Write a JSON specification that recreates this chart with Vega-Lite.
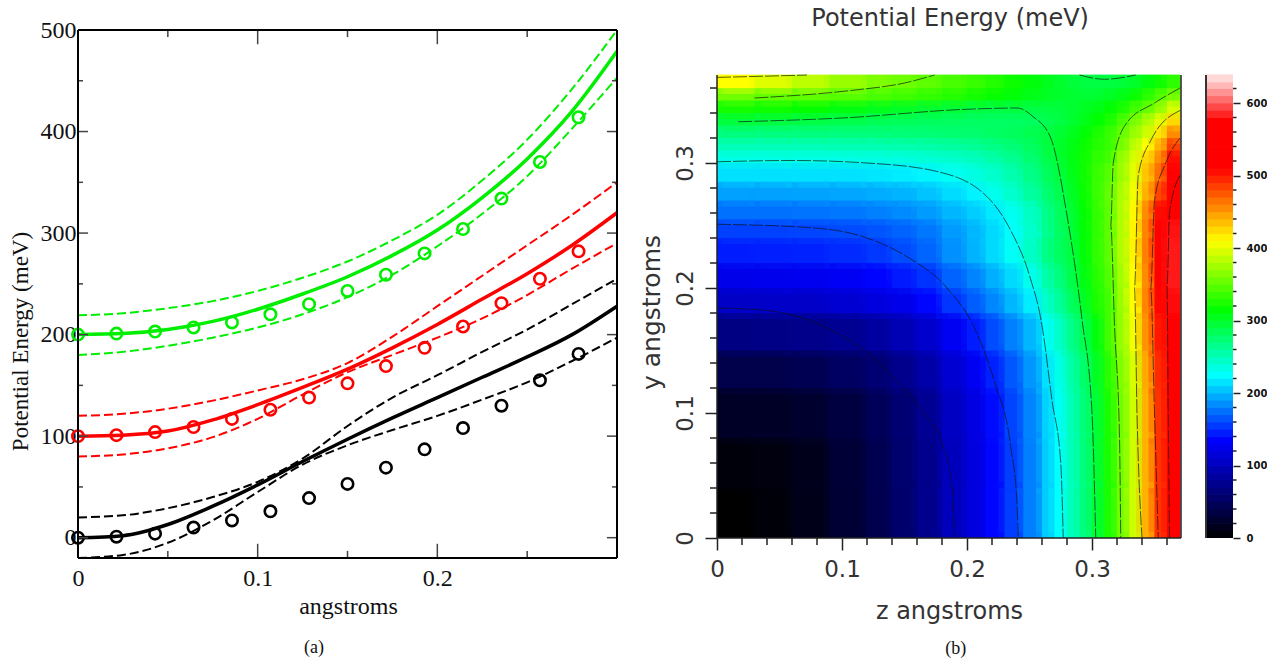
{"$schema":"https://vega.github.io/schema/vega-lite/v6.json","padding":{"left":9,"top":6,"right":0,"bottom":0},"background":"white","bounds":"flush","spacing":25,"resolve":{"scale":{"color":"independent"}},"config":{"view":{"stroke":null},"axis":{"grid":false}},
"datasets":{
"lines":[
{"s":"k","k":"m","x":0,"v":0},{"s":"k","k":"m","x":0.025,"v":2},{"s":"k","k":"m","x":0.05,"v":13},{"s":"k","k":"m","x":0.075,"v":31},{"s":"k","k":"m","x":0.1,"v":52},{"s":"k","k":"m","x":0.125,"v":75},{"s":"k","k":"m","x":0.15,"v":97},{"s":"k","k":"m","x":0.175,"v":118},{"s":"k","k":"m","x":0.2,"v":138},{"s":"k","k":"m","x":0.225,"v":158},{"s":"k","k":"m","x":0.25,"v":178},{"s":"k","k":"m","x":0.275,"v":200},{"s":"k","k":"m","x":0.3,"v":228},
{"s":"k","k":"u","x":0,"v":20},{"s":"k","k":"u","x":0.025,"v":22},{"s":"k","k":"u","x":0.05,"v":29},{"s":"k","k":"u","x":0.075,"v":40},{"s":"k","k":"u","x":0.1,"v":55},{"s":"k","k":"u","x":0.125,"v":78},{"s":"k","k":"u","x":0.15,"v":110},{"s":"k","k":"u","x":0.175,"v":138},{"s":"k","k":"u","x":0.2,"v":160},{"s":"k","k":"u","x":0.225,"v":183},{"s":"k","k":"u","x":0.25,"v":205},{"s":"k","k":"u","x":0.275,"v":230},{"s":"k","k":"u","x":0.3,"v":255},
{"s":"k","k":"l","x":0,"v":-20},{"s":"k","k":"l","x":0.025,"v":-17},{"s":"k","k":"l","x":0.05,"v":-5},{"s":"k","k":"l","x":0.075,"v":17},{"s":"k","k":"l","x":0.1,"v":45},{"s":"k","k":"l","x":0.125,"v":72},{"s":"k","k":"l","x":0.15,"v":91},{"s":"k","k":"l","x":0.175,"v":106},{"s":"k","k":"l","x":0.2,"v":120},{"s":"k","k":"l","x":0.225,"v":136},{"s":"k","k":"l","x":0.25,"v":153},{"s":"k","k":"l","x":0.275,"v":174},{"s":"k","k":"l","x":0.3,"v":197},
{"s":"r","k":"m","x":0,"v":100},{"s":"r","k":"m","x":0.025,"v":101},{"s":"r","k":"m","x":0.05,"v":105},{"s":"r","k":"m","x":0.075,"v":116},{"s":"r","k":"m","x":0.1,"v":131},{"s":"r","k":"m","x":0.125,"v":148},{"s":"r","k":"m","x":0.15,"v":166},{"s":"r","k":"m","x":0.175,"v":187},{"s":"r","k":"m","x":0.2,"v":210},{"s":"r","k":"m","x":0.225,"v":235},{"s":"r","k":"m","x":0.25,"v":260},{"s":"r","k":"m","x":0.275,"v":288},{"s":"r","k":"m","x":0.3,"v":320},
{"s":"r","k":"u","x":0,"v":120},{"s":"r","k":"u","x":0.025,"v":122},{"s":"r","k":"u","x":0.05,"v":127},{"s":"r","k":"u","x":0.075,"v":135},{"s":"r","k":"u","x":0.1,"v":145},{"s":"r","k":"u","x":0.125,"v":156},{"s":"r","k":"u","x":0.15,"v":172},{"s":"r","k":"u","x":0.175,"v":198},{"s":"r","k":"u","x":0.2,"v":228},{"s":"r","k":"u","x":0.225,"v":258},{"s":"r","k":"u","x":0.25,"v":288},{"s":"r","k":"u","x":0.275,"v":318},{"s":"r","k":"u","x":0.3,"v":350},
{"s":"r","k":"l","x":0,"v":80},{"s":"r","k":"l","x":0.025,"v":82},{"s":"r","k":"l","x":0.05,"v":88},{"s":"r","k":"l","x":0.075,"v":99},{"s":"r","k":"l","x":0.1,"v":117},{"s":"r","k":"l","x":0.125,"v":141},{"s":"r","k":"l","x":0.15,"v":163},{"s":"r","k":"l","x":0.175,"v":180},{"s":"r","k":"l","x":0.2,"v":197},{"s":"r","k":"l","x":0.225,"v":216},{"s":"r","k":"l","x":0.25,"v":239},{"s":"r","k":"l","x":0.275,"v":265},{"s":"r","k":"l","x":0.3,"v":290},
{"s":"g","k":"m","x":0,"v":200},{"s":"g","k":"m","x":0.025,"v":201},{"s":"g","k":"m","x":0.05,"v":205},{"s":"g","k":"m","x":0.075,"v":213},{"s":"g","k":"m","x":0.1,"v":225},{"s":"g","k":"m","x":0.125,"v":240},{"s":"g","k":"m","x":0.15,"v":257},{"s":"g","k":"m","x":0.175,"v":278},{"s":"g","k":"m","x":0.2,"v":303},{"s":"g","k":"m","x":0.225,"v":335},{"s":"g","k":"m","x":0.25,"v":373},{"s":"g","k":"m","x":0.275,"v":420},{"s":"g","k":"m","x":0.3,"v":479},
{"s":"g","k":"u","x":0,"v":219},{"s":"g","k":"u","x":0.025,"v":221},{"s":"g","k":"u","x":0.05,"v":226},{"s":"g","k":"u","x":0.075,"v":233},{"s":"g","k":"u","x":0.1,"v":243},{"s":"g","k":"u","x":0.125,"v":256},{"s":"g","k":"u","x":0.15,"v":272},{"s":"g","k":"u","x":0.175,"v":293},{"s":"g","k":"u","x":0.2,"v":318},{"s":"g","k":"u","x":0.225,"v":352},{"s":"g","k":"u","x":0.25,"v":392},{"s":"g","k":"u","x":0.275,"v":442},{"s":"g","k":"u","x":0.3,"v":500},
{"s":"g","k":"l","x":0,"v":180},{"s":"g","k":"l","x":0.025,"v":183},{"s":"g","k":"l","x":0.05,"v":189},{"s":"g","k":"l","x":0.075,"v":197},{"s":"g","k":"l","x":0.1,"v":207},{"s":"g","k":"l","x":0.125,"v":220},{"s":"g","k":"l","x":0.15,"v":237},{"s":"g","k":"l","x":0.175,"v":259},{"s":"g","k":"l","x":0.2,"v":287},{"s":"g","k":"l","x":0.225,"v":319},{"s":"g","k":"l","x":0.25,"v":356},{"s":"g","k":"l","x":0.275,"v":403},{"s":"g","k":"l","x":0.3,"v":453}],
"pts":[
{"s":"k","x":0,"v":0},{"s":"k","x":0.0214,"v":1},{"s":"k","x":0.0429,"v":4},{"s":"k","x":0.0643,"v":10},{"s":"k","x":0.0857,"v":17},{"s":"k","x":0.1071,"v":26},{"s":"k","x":0.1286,"v":39},{"s":"k","x":0.15,"v":53},{"s":"k","x":0.1714,"v":69},{"s":"k","x":0.1929,"v":87},{"s":"k","x":0.2143,"v":108},{"s":"k","x":0.2357,"v":130},{"s":"k","x":0.2571,"v":155},{"s":"k","x":0.2786,"v":181},
{"s":"r","x":0,"v":100},{"s":"r","x":0.0214,"v":101},{"s":"r","x":0.0429,"v":104},{"s":"r","x":0.0643,"v":109},{"s":"r","x":0.0857,"v":117},{"s":"r","x":0.1071,"v":126},{"s":"r","x":0.1286,"v":138},{"s":"r","x":0.15,"v":152},{"s":"r","x":0.1714,"v":169},{"s":"r","x":0.1929,"v":187},{"s":"r","x":0.2143,"v":208},{"s":"r","x":0.2357,"v":231},{"s":"r","x":0.2571,"v":255},{"s":"r","x":0.2786,"v":282},
{"s":"g","x":0,"v":200},{"s":"g","x":0.0214,"v":201},{"s":"g","x":0.0429,"v":203},{"s":"g","x":0.0643,"v":207},{"s":"g","x":0.0857,"v":212},{"s":"g","x":0.1071,"v":220},{"s":"g","x":0.1286,"v":230},{"s":"g","x":0.15,"v":243},{"s":"g","x":0.1714,"v":259},{"s":"g","x":0.1929,"v":280},{"s":"g","x":0.2143,"v":304},{"s":"g","x":0.2357,"v":334},{"s":"g","x":0.2571,"v":370},{"s":"g","x":0.2786,"v":414}],
"vt":[{"x":0.05,"y":-20,"y2":-13},{"x":0.1,"y":-20,"y2":-6},{"x":0.15,"y":-20,"y2":-13},{"x":0.2,"y":-20,"y2":-6},{"x":0.25,"y":-20,"y2":-13},{"x":0.05,"y":500,"y2":493},{"x":0.1,"y":500,"y2":486},{"x":0.15,"y":500,"y2":493},{"x":0.2,"y":500,"y2":486},{"x":0.25,"y":500,"y2":493}],
"ht":[{"y":0,"x":0,"x2":0.0056},{"y":100,"x":0,"x2":0.0056},{"y":200,"x":0,"x2":0.0056},{"y":300,"x":0,"x2":0.0056},{"y":400,"x":0,"x2":0.0056},{"y":50,"x":0,"x2":0.0028},{"y":150,"x":0,"x2":0.0028},{"y":250,"x":0,"x2":0.0028},{"y":350,"x":0,"x2":0.0028},{"y":450,"x":0,"x2":0.0028},{"y":0,"x":0.3,"x2":0.2944},{"y":100,"x":0.3,"x2":0.2944},{"y":200,"x":0.3,"x2":0.2944},{"y":300,"x":0.3,"x2":0.2944},{"y":400,"x":0.3,"x2":0.2944},{"y":50,"x":0.3,"x2":0.2972},{"y":150,"x":0.3,"x2":0.2972},{"y":250,"x":0.3,"x2":0.2972},{"y":350,"x":0.3,"x2":0.2972},{"y":450,"x":0.3,"x2":0.2972}],
"zedges":[{"z":0,"z2":0.03},{"z":0.03,"z2":0.06},{"z":0.06,"z2":0.09},{"z":0.09,"z2":0.12},{"z":0.12,"z2":0.14},{"z":0.14,"z2":0.16},{"z":0.16,"z2":0.18},{"z":0.18,"z2":0.2},{"z":0.2,"z2":0.215},{"z":0.215,"z2":0.23},{"z":0.23,"z2":0.245},{"z":0.245,"z2":0.26},{"z":0.26,"z2":0.27},{"z":0.27,"z2":0.28},{"z":0.28,"z2":0.29},{"z":0.29,"z2":0.3},{"z":0.3,"z2":0.31},{"z":0.31,"z2":0.32},{"z":0.32,"z2":0.33},{"z":0.33,"z2":0.34},{"z":0.34,"z2":0.35},{"z":0.35,"z2":0.36},{"z":0.36,"z2":0.3704}],
"yedges":[{"y":0,"y2":0.04},{"y":0.04,"y2":0.08},{"y":0.08,"y2":0.12},{"y":0.12,"y2":0.15},{"y":0.15,"y2":0.18},{"y":0.18,"y2":0.2},{"y":0.2,"y2":0.22},{"y":0.22,"y2":0.24},{"y":0.24,"y2":0.255},{"y":0.255,"y2":0.27},{"y":0.27,"y2":0.285},{"y":0.285,"y2":0.3},{"y":0.3,"y2":0.31},{"y":0.31,"y2":0.32},{"y":0.32,"y2":0.33},{"y":0.33,"y2":0.34},{"y":0.34,"y2":0.35},{"y":0.35,"y2":0.36},{"y":0.36,"y2":0.3704}],
"heat":[
{"z":0,"y":0,"v":1},{"z":0.03,"y":0,"v":5},{"z":0.06,"y":0,"v":14},{"z":0.09,"y":0,"v":28},{"z":0.12,"y":0,"v":42},{"z":0.14,"y":0,"v":57},{"z":0.16,"y":0,"v":75},{"z":0.18,"y":0,"v":100},{"z":0.2,"y":0,"v":118},{"z":0.215,"y":0,"v":137},{"z":0.23,"y":0,"v":157},{"z":0.245,"y":0,"v":180},{"z":0.26,"y":0,"v":207},{"z":0.27,"y":0,"v":225},{"z":0.28,"y":0,"v":248},{"z":0.29,"y":0,"v":270},{"z":0.3,"y":0,"v":295},{"z":0.31,"y":0,"v":325},{"z":0.32,"y":0,"v":357},{"z":0.33,"y":0,"v":392},{"z":0.34,"y":0,"v":440},{"z":0.35,"y":0,"v":490},{"z":0.36,"y":0,"v":560},
{"z":0,"y":0.04,"v":6},{"z":0.03,"y":0.04,"v":8},{"z":0.06,"y":0.04,"v":15},{"z":0.09,"y":0.04,"v":29},{"z":0.12,"y":0.04,"v":43},{"z":0.14,"y":0.04,"v":58},{"z":0.16,"y":0.04,"v":75},{"z":0.18,"y":0.04,"v":100},{"z":0.2,"y":0.04,"v":118},{"z":0.215,"y":0.04,"v":137},{"z":0.23,"y":0.04,"v":157},{"z":0.245,"y":0.04,"v":180},{"z":0.26,"y":0.04,"v":207},{"z":0.27,"y":0.04,"v":225},{"z":0.28,"y":0.04,"v":248},{"z":0.29,"y":0.04,"v":270},{"z":0.3,"y":0.04,"v":295},{"z":0.31,"y":0.04,"v":325},{"z":0.32,"y":0.04,"v":357},{"z":0.33,"y":0.04,"v":392},{"z":0.34,"y":0.04,"v":440},{"z":0.35,"y":0.04,"v":490},{"z":0.36,"y":0.04,"v":562},
{"z":0,"y":0.08,"v":20},{"z":0.03,"y":0.08,"v":21},{"z":0.06,"y":0.08,"v":25},{"z":0.09,"y":0.08,"v":35},{"z":0.12,"y":0.08,"v":47},{"z":0.14,"y":0.08,"v":61},{"z":0.16,"y":0.08,"v":78},{"z":0.18,"y":0.08,"v":103},{"z":0.2,"y":0.08,"v":120},{"z":0.215,"y":0.08,"v":139},{"z":0.23,"y":0.08,"v":159},{"z":0.245,"y":0.08,"v":182},{"z":0.26,"y":0.08,"v":209},{"z":0.27,"y":0.08,"v":227},{"z":0.28,"y":0.08,"v":249},{"z":0.29,"y":0.08,"v":271},{"z":0.3,"y":0.08,"v":296},{"z":0.31,"y":0.08,"v":325},{"z":0.32,"y":0.08,"v":357},{"z":0.33,"y":0.08,"v":392},{"z":0.34,"y":0.08,"v":440},{"z":0.35,"y":0.08,"v":490},{"z":0.36,"y":0.08,"v":563},
{"z":0,"y":0.12,"v":40},{"z":0.03,"y":0.12,"v":41},{"z":0.06,"y":0.12,"v":44},{"z":0.09,"y":0.12,"v":52},{"z":0.12,"y":0.12,"v":62},{"z":0.14,"y":0.12,"v":74},{"z":0.16,"y":0.12,"v":89},{"z":0.18,"y":0.12,"v":112},{"z":0.2,"y":0.12,"v":129},{"z":0.215,"y":0.12,"v":147},{"z":0.23,"y":0.12,"v":166},{"z":0.245,"y":0.12,"v":188},{"z":0.26,"y":0.12,"v":215},{"z":0.27,"y":0.12,"v":232},{"z":0.28,"y":0.12,"v":255},{"z":0.29,"y":0.12,"v":277},{"z":0.3,"y":0.12,"v":301},{"z":0.31,"y":0.12,"v":330},{"z":0.32,"y":0.12,"v":362},{"z":0.33,"y":0.12,"v":395},{"z":0.34,"y":0.12,"v":443},{"z":0.35,"y":0.12,"v":493},{"z":0.36,"y":0.12,"v":568},
{"z":0,"y":0.15,"v":70},{"z":0.03,"y":0.15,"v":71},{"z":0.06,"y":0.15,"v":73},{"z":0.09,"y":0.15,"v":78},{"z":0.12,"y":0.15,"v":86},{"z":0.14,"y":0.15,"v":96},{"z":0.16,"y":0.15,"v":109},{"z":0.18,"y":0.15,"v":129},{"z":0.2,"y":0.15,"v":145},{"z":0.215,"y":0.15,"v":162},{"z":0.23,"y":0.15,"v":180},{"z":0.245,"y":0.15,"v":200},{"z":0.26,"y":0.15,"v":226},{"z":0.27,"y":0.15,"v":243},{"z":0.28,"y":0.15,"v":265},{"z":0.29,"y":0.15,"v":286},{"z":0.3,"y":0.15,"v":310},{"z":0.31,"y":0.15,"v":339},{"z":0.32,"y":0.15,"v":370},{"z":0.33,"y":0.15,"v":405},{"z":0.34,"y":0.15,"v":452},{"z":0.35,"y":0.15,"v":501},{"z":0.36,"y":0.15,"v":572},
{"z":0,"y":0.18,"v":105},{"z":0.03,"y":0.18,"v":106},{"z":0.06,"y":0.18,"v":107},{"z":0.09,"y":0.18,"v":112},{"z":0.12,"y":0.18,"v":118},{"z":0.14,"y":0.18,"v":125},{"z":0.16,"y":0.18,"v":137},{"z":0.18,"y":0.18,"v":154},{"z":0.2,"y":0.18,"v":168},{"z":0.215,"y":0.18,"v":183},{"z":0.23,"y":0.18,"v":200},{"z":0.245,"y":0.18,"v":219},{"z":0.26,"y":0.18,"v":243},{"z":0.27,"y":0.18,"v":259},{"z":0.28,"y":0.18,"v":280},{"z":0.29,"y":0.18,"v":301},{"z":0.3,"y":0.18,"v":325},{"z":0.31,"y":0.18,"v":340},{"z":0.32,"y":0.18,"v":372},{"z":0.33,"y":0.18,"v":410},{"z":0.34,"y":0.18,"v":458},{"z":0.35,"y":0.18,"v":508},{"z":0.36,"y":0.18,"v":578},
{"z":0,"y":0.2,"v":125},{"z":0.03,"y":0.2,"v":126},{"z":0.06,"y":0.2,"v":127},{"z":0.09,"y":0.2,"v":131},{"z":0.12,"y":0.2,"v":136},{"z":0.14,"y":0.2,"v":144},{"z":0.16,"y":0.2,"v":153},{"z":0.18,"y":0.2,"v":170},{"z":0.2,"y":0.2,"v":182},{"z":0.215,"y":0.2,"v":197},{"z":0.23,"y":0.2,"v":212},{"z":0.245,"y":0.2,"v":231},{"z":0.26,"y":0.2,"v":255},{"z":0.27,"y":0.2,"v":270},{"z":0.28,"y":0.2,"v":288},{"z":0.29,"y":0.2,"v":308},{"z":0.3,"y":0.2,"v":328},{"z":0.31,"y":0.2,"v":345},{"z":0.32,"y":0.2,"v":375},{"z":0.33,"y":0.2,"v":410},{"z":0.34,"y":0.2,"v":455},{"z":0.35,"y":0.2,"v":510},{"z":0.36,"y":0.2,"v":582},
{"z":0,"y":0.22,"v":145},{"z":0.03,"y":0.22,"v":146},{"z":0.06,"y":0.22,"v":147},{"z":0.09,"y":0.22,"v":150},{"z":0.12,"y":0.22,"v":155},{"z":0.14,"y":0.22,"v":162},{"z":0.16,"y":0.22,"v":171},{"z":0.18,"y":0.22,"v":186},{"z":0.2,"y":0.22,"v":198},{"z":0.215,"y":0.22,"v":212},{"z":0.23,"y":0.22,"v":227},{"z":0.245,"y":0.22,"v":245},{"z":0.26,"y":0.22,"v":267},{"z":0.27,"y":0.22,"v":280},{"z":0.28,"y":0.22,"v":292},{"z":0.29,"y":0.22,"v":312},{"z":0.3,"y":0.22,"v":332},{"z":0.31,"y":0.22,"v":350},{"z":0.32,"y":0.22,"v":380},{"z":0.33,"y":0.22,"v":414},{"z":0.34,"y":0.22,"v":460},{"z":0.35,"y":0.22,"v":515},{"z":0.36,"y":0.22,"v":582},
{"z":0,"y":0.24,"v":158},{"z":0.03,"y":0.24,"v":158},{"z":0.06,"y":0.24,"v":159},{"z":0.09,"y":0.24,"v":161},{"z":0.12,"y":0.24,"v":165},{"z":0.14,"y":0.24,"v":170},{"z":0.16,"y":0.24,"v":177},{"z":0.18,"y":0.24,"v":190},{"z":0.2,"y":0.24,"v":200},{"z":0.215,"y":0.24,"v":212},{"z":0.23,"y":0.24,"v":226},{"z":0.245,"y":0.24,"v":243},{"z":0.26,"y":0.24,"v":264},{"z":0.27,"y":0.24,"v":279},{"z":0.28,"y":0.24,"v":294},{"z":0.29,"y":0.24,"v":313},{"z":0.3,"y":0.24,"v":332},{"z":0.31,"y":0.24,"v":350},{"z":0.32,"y":0.24,"v":380},{"z":0.33,"y":0.24,"v":413},{"z":0.34,"y":0.24,"v":458},{"z":0.35,"y":0.24,"v":510},{"z":0.36,"y":0.24,"v":580},
{"z":0,"y":0.255,"v":175},{"z":0.03,"y":0.255,"v":175},{"z":0.06,"y":0.255,"v":176},{"z":0.09,"y":0.255,"v":177},{"z":0.12,"y":0.255,"v":180},{"z":0.14,"y":0.255,"v":184},{"z":0.16,"y":0.255,"v":190},{"z":0.18,"y":0.255,"v":200},{"z":0.2,"y":0.255,"v":208},{"z":0.215,"y":0.255,"v":218},{"z":0.23,"y":0.255,"v":230},{"z":0.245,"y":0.255,"v":246},{"z":0.26,"y":0.255,"v":266},{"z":0.27,"y":0.255,"v":281},{"z":0.28,"y":0.255,"v":296},{"z":0.29,"y":0.255,"v":314},{"z":0.3,"y":0.255,"v":333},{"z":0.31,"y":0.255,"v":350},{"z":0.32,"y":0.255,"v":380},{"z":0.33,"y":0.255,"v":412},{"z":0.34,"y":0.255,"v":455},{"z":0.35,"y":0.255,"v":505},{"z":0.36,"y":0.255,"v":572},
{"z":0,"y":0.27,"v":192},{"z":0.03,"y":0.27,"v":192},{"z":0.06,"y":0.27,"v":193},{"z":0.09,"y":0.27,"v":194},{"z":0.12,"y":0.27,"v":196},{"z":0.14,"y":0.27,"v":199},{"z":0.16,"y":0.27,"v":204},{"z":0.18,"y":0.27,"v":213},{"z":0.2,"y":0.27,"v":221},{"z":0.215,"y":0.27,"v":231},{"z":0.23,"y":0.27,"v":243},{"z":0.245,"y":0.27,"v":258},{"z":0.26,"y":0.27,"v":274},{"z":0.27,"y":0.27,"v":287},{"z":0.28,"y":0.27,"v":300},{"z":0.29,"y":0.27,"v":318},{"z":0.3,"y":0.27,"v":335},{"z":0.31,"y":0.27,"v":352},{"z":0.32,"y":0.27,"v":378},{"z":0.33,"y":0.27,"v":405},{"z":0.34,"y":0.27,"v":440},{"z":0.35,"y":0.27,"v":482},{"z":0.36,"y":0.27,"v":555},
{"z":0,"y":0.285,"v":214},{"z":0.03,"y":0.285,"v":214},{"z":0.06,"y":0.285,"v":215},{"z":0.09,"y":0.285,"v":215},{"z":0.12,"y":0.285,"v":217},{"z":0.14,"y":0.285,"v":219},{"z":0.16,"y":0.285,"v":222},{"z":0.18,"y":0.285,"v":229},{"z":0.2,"y":0.285,"v":235},{"z":0.215,"y":0.285,"v":243},{"z":0.23,"y":0.285,"v":253},{"z":0.245,"y":0.285,"v":267},{"z":0.26,"y":0.285,"v":281},{"z":0.27,"y":0.285,"v":292},{"z":0.28,"y":0.285,"v":305},{"z":0.29,"y":0.285,"v":320},{"z":0.3,"y":0.285,"v":335},{"z":0.31,"y":0.285,"v":347},{"z":0.32,"y":0.285,"v":372},{"z":0.33,"y":0.285,"v":400},{"z":0.34,"y":0.285,"v":432},{"z":0.35,"y":0.285,"v":467},{"z":0.36,"y":0.285,"v":530},
{"z":0,"y":0.3,"v":233},{"z":0.03,"y":0.3,"v":233},{"z":0.06,"y":0.3,"v":234},{"z":0.09,"y":0.3,"v":234},{"z":0.12,"y":0.3,"v":235},{"z":0.14,"y":0.3,"v":236},{"z":0.16,"y":0.3,"v":239},{"z":0.18,"y":0.3,"v":243},{"z":0.2,"y":0.3,"v":248},{"z":0.215,"y":0.3,"v":255},{"z":0.23,"y":0.3,"v":263},{"z":0.245,"y":0.3,"v":275},{"z":0.26,"y":0.3,"v":288},{"z":0.27,"y":0.3,"v":297},{"z":0.28,"y":0.3,"v":308},{"z":0.29,"y":0.3,"v":320},{"z":0.3,"y":0.3,"v":332},{"z":0.31,"y":0.3,"v":340},{"z":0.32,"y":0.3,"v":370},{"z":0.33,"y":0.3,"v":395},{"z":0.34,"y":0.3,"v":425},{"z":0.35,"y":0.3,"v":455},{"z":0.36,"y":0.3,"v":505},
{"z":0,"y":0.31,"v":250},{"z":0.03,"y":0.31,"v":250},{"z":0.06,"y":0.31,"v":250},{"z":0.09,"y":0.31,"v":251},{"z":0.12,"y":0.31,"v":252},{"z":0.14,"y":0.31,"v":253},{"z":0.16,"y":0.31,"v":255},{"z":0.18,"y":0.31,"v":258},{"z":0.2,"y":0.31,"v":262},{"z":0.215,"y":0.31,"v":267},{"z":0.23,"y":0.31,"v":273},{"z":0.245,"y":0.31,"v":281},{"z":0.26,"y":0.31,"v":292},{"z":0.27,"y":0.31,"v":300},{"z":0.28,"y":0.31,"v":308},{"z":0.29,"y":0.31,"v":318},{"z":0.3,"y":0.31,"v":328},{"z":0.31,"y":0.31,"v":335},{"z":0.32,"y":0.31,"v":358},{"z":0.33,"y":0.31,"v":385},{"z":0.34,"y":0.31,"v":410},{"z":0.35,"y":0.31,"v":440},{"z":0.36,"y":0.31,"v":485},
{"z":0,"y":0.32,"v":270},{"z":0.03,"y":0.32,"v":270},{"z":0.06,"y":0.32,"v":270},{"z":0.09,"y":0.32,"v":270},{"z":0.12,"y":0.32,"v":271},{"z":0.14,"y":0.32,"v":272},{"z":0.16,"y":0.32,"v":273},{"z":0.18,"y":0.32,"v":275},{"z":0.2,"y":0.32,"v":277},{"z":0.215,"y":0.32,"v":280},{"z":0.23,"y":0.32,"v":283},{"z":0.245,"y":0.32,"v":287},{"z":0.26,"y":0.32,"v":292},{"z":0.27,"y":0.32,"v":297},{"z":0.28,"y":0.32,"v":304},{"z":0.29,"y":0.32,"v":314},{"z":0.3,"y":0.32,"v":325},{"z":0.31,"y":0.32,"v":335},{"z":0.32,"y":0.32,"v":352},{"z":0.33,"y":0.32,"v":372},{"z":0.34,"y":0.32,"v":392},{"z":0.35,"y":0.32,"v":420},{"z":0.36,"y":0.32,"v":455},
{"z":0,"y":0.33,"v":293},{"z":0.03,"y":0.33,"v":292},{"z":0.06,"y":0.33,"v":290},{"z":0.09,"y":0.33,"v":288},{"z":0.12,"y":0.33,"v":285},{"z":0.14,"y":0.33,"v":283},{"z":0.16,"y":0.33,"v":282},{"z":0.18,"y":0.33,"v":281},{"z":0.2,"y":0.33,"v":280},{"z":0.215,"y":0.33,"v":280},{"z":0.23,"y":0.33,"v":280},{"z":0.245,"y":0.33,"v":282},{"z":0.26,"y":0.33,"v":286},{"z":0.27,"y":0.33,"v":291},{"z":0.28,"y":0.33,"v":297},{"z":0.29,"y":0.33,"v":306},{"z":0.3,"y":0.33,"v":315},{"z":0.31,"y":0.33,"v":325},{"z":0.32,"y":0.33,"v":342},{"z":0.33,"y":0.33,"v":360},{"z":0.34,"y":0.33,"v":378},{"z":0.35,"y":0.33,"v":400},{"z":0.36,"y":0.33,"v":425},
{"z":0,"y":0.34,"v":322},{"z":0.03,"y":0.34,"v":320},{"z":0.06,"y":0.34,"v":316},{"z":0.09,"y":0.34,"v":310},{"z":0.12,"y":0.34,"v":305},{"z":0.14,"y":0.34,"v":302},{"z":0.16,"y":0.34,"v":298},{"z":0.18,"y":0.34,"v":295},{"z":0.2,"y":0.34,"v":292},{"z":0.215,"y":0.34,"v":291},{"z":0.23,"y":0.34,"v":291},{"z":0.245,"y":0.34,"v":291},{"z":0.26,"y":0.34,"v":292},{"z":0.27,"y":0.34,"v":294},{"z":0.28,"y":0.34,"v":297},{"z":0.29,"y":0.34,"v":303},{"z":0.3,"y":0.34,"v":308},{"z":0.31,"y":0.34,"v":315},{"z":0.32,"y":0.34,"v":325},{"z":0.33,"y":0.34,"v":340},{"z":0.34,"y":0.34,"v":352},{"z":0.35,"y":0.34,"v":370},{"z":0.36,"y":0.34,"v":395},
{"z":0,"y":0.35,"v":356},{"z":0.03,"y":0.35,"v":352},{"z":0.06,"y":0.35,"v":350},{"z":0.09,"y":0.35,"v":347},{"z":0.12,"y":0.35,"v":342},{"z":0.14,"y":0.35,"v":338},{"z":0.16,"y":0.35,"v":333},{"z":0.18,"y":0.35,"v":328},{"z":0.2,"y":0.35,"v":322},{"z":0.215,"y":0.35,"v":317},{"z":0.23,"y":0.35,"v":312},{"z":0.245,"y":0.35,"v":307},{"z":0.26,"y":0.35,"v":303},{"z":0.27,"y":0.35,"v":300},{"z":0.28,"y":0.35,"v":298},{"z":0.29,"y":0.35,"v":297},{"z":0.3,"y":0.35,"v":298},{"z":0.31,"y":0.35,"v":302},{"z":0.32,"y":0.35,"v":308},{"z":0.33,"y":0.35,"v":318},{"z":0.34,"y":0.35,"v":330},{"z":0.35,"y":0.35,"v":345},{"z":0.36,"y":0.35,"v":360},
{"z":0,"y":0.36,"v":410},{"z":0.03,"y":0.36,"v":398},{"z":0.06,"y":0.36,"v":385},{"z":0.09,"y":0.36,"v":372},{"z":0.12,"y":0.36,"v":362},{"z":0.14,"y":0.36,"v":356},{"z":0.16,"y":0.36,"v":350},{"z":0.18,"y":0.36,"v":342},{"z":0.2,"y":0.36,"v":335},{"z":0.215,"y":0.36,"v":328},{"z":0.23,"y":0.36,"v":320},{"z":0.245,"y":0.36,"v":312},{"z":0.26,"y":0.36,"v":305},{"z":0.27,"y":0.36,"v":300},{"z":0.28,"y":0.36,"v":295},{"z":0.29,"y":0.36,"v":292},{"z":0.3,"y":0.36,"v":291},{"z":0.31,"y":0.36,"v":292},{"z":0.32,"y":0.36,"v":295},{"z":0.33,"y":0.36,"v":300},{"z":0.34,"y":0.36,"v":310},{"z":0.35,"y":0.36,"v":320},{"z":0.36,"y":0.36,"v":332}],
"contours":[
{"id":"a","o":0,"z":0,"y":0.184},{"id":"a","o":1,"z":0.04,"y":0.182},{"id":"a","o":2,"z":0.09,"y":0.167},{"id":"a","o":3,"z":0.12,"y":0.148},{"id":"a","o":4,"z":0.145,"y":0.124},{"id":"a","o":5,"z":0.165,"y":0.1},{"id":"a","o":6,"z":0.18,"y":0.076},{"id":"a","o":7,"z":0.188,"y":0.04},{"id":"a","o":8,"z":0.19,"y":0},
{"id":"b","o":0,"z":0,"y":0.251},{"id":"b","o":1,"z":0.078,"y":0.248},{"id":"b","o":2,"z":0.117,"y":0.241},{"id":"b","o":3,"z":0.152,"y":0.225},{"id":"b","o":4,"z":0.184,"y":0.2},{"id":"b","o":5,"z":0.206,"y":0.168},{"id":"b","o":6,"z":0.222,"y":0.125},{"id":"b","o":7,"z":0.235,"y":0.073},{"id":"b","o":8,"z":0.24,"y":0.028},{"id":"b","o":9,"z":0.241,"y":0},
{"id":"c","o":0,"z":0,"y":0.301},{"id":"c","o":1,"z":0.06,"y":0.302},{"id":"c","o":2,"z":0.12,"y":0.3},{"id":"c","o":3,"z":0.177,"y":0.293},{"id":"c","o":4,"z":0.219,"y":0.27},{"id":"c","o":5,"z":0.235,"y":0.246},{"id":"c","o":6,"z":0.25,"y":0.21},{"id":"c","o":7,"z":0.26,"y":0.17},{"id":"c","o":8,"z":0.268,"y":0.11},{"id":"c","o":9,"z":0.275,"y":0.06},{"id":"c","o":10,"z":0.277,"y":0},
{"id":"d","o":0,"z":0.017,"y":0.333},{"id":"d","o":1,"z":0.1,"y":0.336},{"id":"d","o":2,"z":0.2,"y":0.343},{"id":"d","o":3,"z":0.24,"y":0.344},{"id":"d","o":4,"z":0.253,"y":0.337},{"id":"d","o":5,"z":0.267,"y":0.32},{"id":"d","o":6,"z":0.28,"y":0.258},{"id":"d","o":7,"z":0.292,"y":0.175},{"id":"d","o":8,"z":0.3,"y":0.1},{"id":"d","o":9,"z":0.303,"y":0},
{"id":"e","o":0,"z":0.3704,"y":0.36},{"id":"e","o":1,"z":0.35,"y":0.348},{"id":"e","o":2,"z":0.327,"y":0.331},{"id":"e","o":3,"z":0.317,"y":0.3},{"id":"e","o":4,"z":0.315,"y":0.25},{"id":"e","o":5,"z":0.318,"y":0.17},{"id":"e","o":6,"z":0.322,"y":0.08},{"id":"e","o":7,"z":0.323,"y":0},
{"id":"f","o":0,"z":0.03,"y":0.352},{"id":"f","o":1,"z":0.107,"y":0.358},{"id":"f","o":2,"z":0.15,"y":0.364},{"id":"f","o":3,"z":0.174,"y":0.3704},
{"id":"g","o":0,"z":0,"y":0.3685},{"id":"g","o":1,"z":0.04,"y":0.3695},{"id":"g","o":2,"z":0.072,"y":0.3704},
{"id":"h","o":0,"z":0.3704,"y":0.342},{"id":"h","o":1,"z":0.347,"y":0.318},{"id":"h","o":2,"z":0.337,"y":0.29},{"id":"h","o":3,"z":0.334,"y":0.2},{"id":"h","o":4,"z":0.336,"y":0.1},{"id":"h","o":5,"z":0.34,"y":0},
{"id":"i","o":0,"z":0.3704,"y":0.32},{"id":"i","o":1,"z":0.359,"y":0.3},{"id":"i","o":2,"z":0.35,"y":0.27},{"id":"i","o":3,"z":0.347,"y":0.2},{"id":"i","o":4,"z":0.35,"y":0.1},{"id":"i","o":5,"z":0.353,"y":0},
{"id":"j","o":0,"z":0.3704,"y":0.29},{"id":"j","o":1,"z":0.362,"y":0.26},{"id":"j","o":2,"z":0.36,"y":0.2},{"id":"j","o":3,"z":0.361,"y":0.1},{"id":"j","o":4,"z":0.362,"y":0},
{"id":"k","o":0,"z":0.29,"y":0.3704},{"id":"k","o":1,"z":0.31,"y":0.367},{"id":"k","o":2,"z":0.335,"y":0.3704}],
"zminor":[{"z":0.02},{"z":0.04},{"z":0.06},{"z":0.08},{"z":0.12},{"z":0.14},{"z":0.16},{"z":0.18},{"z":0.22},{"z":0.24},{"z":0.26},{"z":0.28},{"z":0.32},{"z":0.34},{"z":0.36}],
"yminor":[{"y":0.02},{"y":0.04},{"y":0.06},{"y":0.08},{"y":0.12},{"y":0.14},{"y":0.16},{"y":0.18},{"y":0.22},{"y":0.24},{"y":0.26},{"y":0.28},{"y":0.32},{"y":0.34},{"y":0.36}],
"bar":[{"c":5},{"c":15},{"c":25},{"c":35},{"c":45},{"c":55},{"c":65},{"c":75},{"c":85},{"c":95},{"c":105},{"c":115},{"c":125},{"c":135},{"c":145},{"c":155},{"c":165},{"c":175},{"c":185},{"c":195},{"c":205},{"c":215},{"c":225},{"c":235},{"c":245},{"c":255},{"c":265},{"c":275},{"c":285},{"c":295},{"c":305},{"c":315},{"c":325},{"c":335},{"c":345},{"c":355},{"c":365},{"c":375},{"c":385},{"c":395},{"c":405},{"c":415},{"c":425},{"c":435},{"c":445},{"c":455},{"c":465},{"c":475},{"c":485},{"c":495},{"c":505},{"c":515},{"c":525},{"c":535},{"c":545},{"c":555},{"c":565},{"c":575},{"c":585},{"c":595},{"c":605},{"c":615},{"c":625},{"c":634}],
"barminor":[{"c":20},{"c":40},{"c":60},{"c":80},{"c":120},{"c":140},{"c":160},{"c":180},{"c":220},{"c":240},{"c":260},{"c":280},{"c":320},{"c":340},{"c":360},{"c":380},{"c":420},{"c":440},{"c":460},{"c":480},{"c":520},{"c":540},{"c":560},{"c":580},{"c":620}],
"frameh":[{"v":-20,"x":0,"x2":0.3},{"v":500,"x":0,"x2":0.3}],
"framev":[{"x":0,"v":-20,"v2":500},{"x":0.3,"v":-20,"v2":500}]
},
"hconcat":[
{"width":614,"height":528,
"encoding":{"x":{"field":"x","type":"quantitative","scale":{"domain":[0,0.34174],"nice":false,"zero":false},"axis":{"values":[0,0.1,0.2],"format":".1~f","ticks":false,"domain":false,"labelFont":"Liberation Serif","labelFontSize":24,"labelColor":"#111","labelPadding":8,"labelFlush":false,"title":"angstroms","titleFont":"Liberation Serif","titleFontSize":24,"titleFontWeight":"normal","titleColor":"#111","titlePadding":4,"titleX":270}},
"y":{"field":"v","type":"quantitative","scale":{"domain":[-20,500],"nice":false,"zero":false},"axis":{"values":[0,100,200,300,400,500],"ticks":false,"domain":false,"labelFont":"Liberation Serif","labelFontSize":24,"labelColor":"#111","labelPadding":2,"labelFlush":false,"title":"Potential Energy (meV)","titleFont":"Liberation Serif","titleFontSize":23,"titleFontWeight":"normal","titleColor":"#111","titleY":311,"titleX":-46}}},
"layer":[
{"data":{"name":"lines"},"transform":[{"filter":"datum.k!='m'"}],"mark":{"type":"line","interpolate":"monotone","strokeWidth":2,"strokeDash":[9,4]},"encoding":{"detail":[{"field":"s"},{"field":"k"}],"color":{"field":"s","scale":{"domain":["k","r","g"],"range":["#000000","#ff0000","#00ee00"]},"legend":null}}},
{"data":{"name":"lines"},"transform":[{"filter":"datum.k=='m'"}],"mark":{"type":"line","interpolate":"monotone","strokeWidth":3.5},"encoding":{"detail":[{"field":"s"}],"color":{"field":"s","scale":{"domain":["k","r","g"],"range":["#000000","#ff0000","#00ee00"]},"legend":null}}},
{"data":{"name":"pts"},"mark":{"type":"point","shape":"circle","filled":false,"size":130,"strokeWidth":2.6,"opacity":1},"encoding":{"color":{"field":"s","scale":{"domain":["k","r","g"],"range":["#000000","#ff0000","#00ee00"]},"legend":null}}},
{"data":{"name":"vt"},"mark":{"type":"rule","color":"#444","strokeWidth":1.5},"encoding":{"y2":{"field":"y2"},"y":{"field":"y","type":"quantitative"}}},
{"data":{"name":"ht"},"mark":{"type":"rule","color":"#444","strokeWidth":1.5},"encoding":{"x2":{"field":"x2"},"y":{"field":"y","type":"quantitative"}}},
{"data":{"name":"frameh"},"mark":{"type":"rule","color":"#000","strokeWidth":2},"encoding":{"x2":{"field":"x2"}}},
{"data":{"name":"framev"},"mark":{"type":"rule","color":"#000","strokeWidth":2},"encoding":{"y2":{"field":"v2"}}},
{"data":{"values":[{"x":0.1313,"v":-109,"t":"(a)"}]},"mark":{"type":"text","font":"Liberation Serif","fontSize":18,"color":"#111"},"encoding":{"text":{"field":"t"}}}
]},
{"width":464,"height":508,
"layer":[
{"data":{"name":"heat"},"transform":[{"lookup":"z","from":{"data":{"name":"zedges"},"key":"z","fields":["z2"]}},{"lookup":"y","from":{"data":{"name":"yedges"},"key":"y","fields":["y2"]}}],"mark":{"type":"rect","strokeWidth":0.8,"clip":true},
"encoding":{"x":{"field":"z","type":"quantitative","scale":{"domain":[0,0.3712],"nice":false,"zero":false},"axis":{"values":[0,0.1,0.2,0.3],"format":".1~f","domain":false,"tickSize":12,"tickColor":"#222","tickWidth":1.5,"labelFont":"DejaVu Sans","labelFontSize":23,"labelColor":"#333","labelPadding":8,"labelFlush":false,"title":"z angstroms","titleFont":"DejaVu Sans","titleFontSize":24,"titleFontWeight":"normal","titleColor":"#333","titlePadding":18}},
"x2":{"field":"z2"},
"y":{"field":"y","type":"quantitative","scale":{"domain":[0,0.4064],"nice":false,"zero":false},"axis":{"values":[0,0.1,0.2,0.3],"format":".1~f","domain":false,"tickSize":12,"tickColor":"#222","tickWidth":1.5,"labelFont":"DejaVu Sans","labelFontSize":23,"labelColor":"#333","labelAngle":270,"labelAlign":"center","labelBaseline":"bottom","labelPadding":8,"labelFlush":false,"title":"y angstroms","titleFont":"DejaVu Sans","titleFontSize":25,"titleFontWeight":"normal","titleColor":"#333","titleY":282,"titleX":-53}},
"y2":{"field":"y2"},
"color":{"field":"v","type":"quantitative","scale":{"domain":[0,135,225,315,410,510,575,640],"range":["#000000","#0000ff","#00ffff","#00ff00","#ffff00","#ff0000","#ff0000","#ffeeee"],"interpolate":"rgb"},"legend":null},
"stroke":{"field":"v","type":"quantitative","scale":{"domain":[0,135,225,315,410,510,575,640],"range":["#000000","#0000ff","#00ffff","#00ff00","#ffff00","#ff0000","#ff0000","#ffeeee"],"interpolate":"rgb"},"legend":null}}},
{"data":{"name":"heat"},"transform":[{"lookup":"z","from":{"data":{"name":"zedges"},"key":"z","fields":["z2"]}},{"lookup":"y","from":{"data":{"name":"yedges"},"key":"y","fields":["y2"]}}],"mark":{"type":"rect","clip":true,"opacity":0.5,"xOffset":6,"yOffset":6},"encoding":{"x":{"field":"z","type":"quantitative"},"x2":{"field":"z2"},"y":{"field":"y","type":"quantitative"},"y2":{"field":"y2"},"color":{"field":"v","type":"quantitative"}}},
{"data":{"name":"heat"},"transform":[{"lookup":"z","from":{"data":{"name":"zedges"},"key":"z","fields":["z2"]}},{"lookup":"y","from":{"data":{"name":"yedges"},"key":"y","fields":["y2"]}}],"mark":{"type":"rect","clip":true,"opacity":0.3333,"xOffset":-6,"yOffset":-6},"encoding":{"x":{"field":"z","type":"quantitative"},"x2":{"field":"z2"},"y":{"field":"y","type":"quantitative"},"y2":{"field":"y2"},"color":{"field":"v","type":"quantitative"}}},
{"data":{"name":"heat"},"transform":[{"lookup":"z","from":{"data":{"name":"zedges"},"key":"z","fields":["z2"]}},{"lookup":"y","from":{"data":{"name":"yedges"},"key":"y","fields":["y2"]}}],"mark":{"type":"rect","clip":true,"opacity":0.25,"xOffset":6,"yOffset":-6},"encoding":{"x":{"field":"z","type":"quantitative"},"x2":{"field":"z2"},"y":{"field":"y","type":"quantitative"},"y2":{"field":"y2"},"color":{"field":"v","type":"quantitative"}}},
{"data":{"name":"heat"},"transform":[{"lookup":"z","from":{"data":{"name":"zedges"},"key":"z","fields":["z2"]}},{"lookup":"y","from":{"data":{"name":"yedges"},"key":"y","fields":["y2"]}}],"mark":{"type":"rect","clip":true,"opacity":0.2,"xOffset":-6,"yOffset":6},"encoding":{"x":{"field":"z","type":"quantitative"},"x2":{"field":"z2"},"y":{"field":"y","type":"quantitative"},"y2":{"field":"y2"},"color":{"field":"v","type":"quantitative"}}},
{"data":{"name":"contours"},"mark":{"type":"line","color":"#111","strokeWidth":0.8,"strokeDash":[14,2],"interpolate":"monotone","opacity":0.85,"clip":true},"encoding":{"x":{"field":"z","type":"quantitative"},"y":{"field":"y","type":"quantitative"},"detail":{"field":"id"},"order":{"field":"o"}}},
{"data":{"name":"zminor"},"mark":{"type":"rule","color":"#222","strokeWidth":1.5},"encoding":{"x":{"field":"z","type":"quantitative"},"y":{"datum":0,"type":"quantitative"},"y2":{"datum":-0.0056}}},
{"data":{"name":"yminor"},"mark":{"type":"rule","color":"#222","strokeWidth":1.5},"encoding":{"y":{"field":"y","type":"quantitative"},"x":{"datum":0,"type":"quantitative"},"x2":{"datum":-0.0056}}},
{"data":{"values":[{"z":0,"z2":0.3712,"y":0}]},"mark":{"type":"rule","color":"#222","strokeWidth":1.5},"encoding":{"x":{"field":"z","type":"quantitative"},"x2":{"field":"z2"},"y":{"field":"y","type":"quantitative"}}},
{"data":{"values":[{"z":0.3712,"y":0,"y2":0.3704},{"z":0,"y":0,"y2":0.3704}]},"mark":{"type":"rule","color":"#222","strokeWidth":1.5},"encoding":{"x":{"field":"z","type":"quantitative"},"y":{"field":"y","type":"quantitative"},"y2":{"field":"y2"}}},
{"data":{"values":[{"z":0.1865,"y":0.4152,"t":"Potential Energy (meV)"}]},"mark":{"type":"text","font":"DejaVu Sans","fontSize":24,"color":"#333"},"encoding":{"x":{"field":"z","type":"quantitative"},"y":{"field":"y","type":"quantitative"},"text":{"field":"t"}}},
{"data":{"values":[{"z":0.191,"y":-0.0888,"t":"(b)"}]},"mark":{"type":"text","font":"Liberation Serif","fontSize":18,"color":"#111"},"encoding":{"x":{"field":"z","type":"quantitative"},"y":{"field":"y","type":"quantitative"},"text":{"field":"t"}}}
]},
{"width":27,"height":508,
"layer":[
{"data":{"name":"bar"},"mark":{"type":"rect","height":8,"width":27,"clip":true},"encoding":{"x":{"datum":0.5,"type":"quantitative","scale":{"domain":[0,1],"nice":false,"zero":false},"axis":null},"y":{"field":"c","type":"quantitative","scale":{"domain":[0,700.7],"nice":false,"zero":false},"axis":{"orient":"right","values":[0,100,200,300,400,500,600],"domain":false,"tickSize":7,"tickWidth":1.5,"tickColor":"#222","labelFont":"DejaVu Sans","labelFontSize":10,"labelFontWeight":"bold","labelColor":"#111","labelPadding":6,"labelFlush":false,"title":null}},"color":{"field":"c","type":"quantitative","scale":{"domain":[0,135,225,315,410,510,575,640],"range":["#000000","#0000ff","#00ffff","#00ff00","#ffff00","#ff0000","#ff0000","#ffeeee"],"interpolate":"rgb"},"legend":null}}},
{"data":{"name":"barminor"},"mark":{"type":"rule","color":"#222","strokeWidth":1.5},"encoding":{"y":{"field":"c","type":"quantitative"},"x":{"datum":1,"type":"quantitative"},"x2":{"datum":1.13}}},
{"data":{"values":[{"x":0,"y":0,"y2":638.6}]},"mark":{"type":"rule","color":"#333","strokeWidth":2},"encoding":{"x":{"field":"x","type":"quantitative"},"y":{"field":"y","type":"quantitative"},"y2":{"field":"y2"}}}
]}
]}
